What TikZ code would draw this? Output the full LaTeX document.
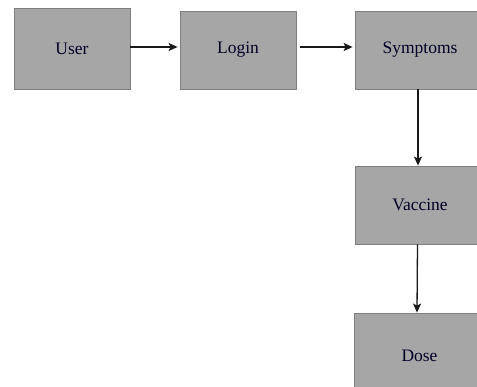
\documentclass[tikz,border=0pt]{standalone}
\usepackage{fontspec}
\setmainfont{Liberation Serif}
\usetikzlibrary{arrows.meta}
\definecolor{boxfill}{HTML}{A6A6A6}
\definecolor{boxline}{HTML}{7F7F7F}
\tikzset{
  box/.style={draw=boxline, fill=boxfill, line width=0.8pt, inner sep=0pt,
    font=\fontsize{17.5}{20}\selectfont, text=black!85!blue},
  conn/.style={draw=black!90, line width=1.3pt, -{Stealth[length=9pt,width=8pt,inset=2pt]}}
}
\begin{document}
\begin{tikzpicture}[x=1pt,y=-1pt]
\useasboundingbox (0,0) rectangle (477,387);
\node[box, minimum width=116pt, minimum height=81pt] (user) at (72,48.5) {User};
\node[box, minimum width=116pt, minimum height=78pt] (login) at (238,50) {Login};
\node[box, minimum width=130pt, minimum height=78pt] (sym) at (420,50) {Symptoms};
\node[box, minimum width=130pt, minimum height=78pt] (vac) at (420,205) {Vaccine};
\node[box, minimum width=131pt, minimum height=86pt] (dose) at (419.5,356) {Dose};
\draw[conn] ([yshift=1.5pt]user.east) -- ([yshift=3pt,xshift=-2pt]login.west);
\draw[conn] ([yshift=3pt,xshift=4pt]login.east) -- ([yshift=3pt,xshift=-2pt]sym.west);
\draw[conn] ([xshift=-2pt]sym.south) -- ([xshift=-2pt]vac.north);
\draw[conn] ([xshift=-2.5pt]vac.south) -- ([xshift=-2.5pt]dose.north);
\end{tikzpicture}
\end{document}
